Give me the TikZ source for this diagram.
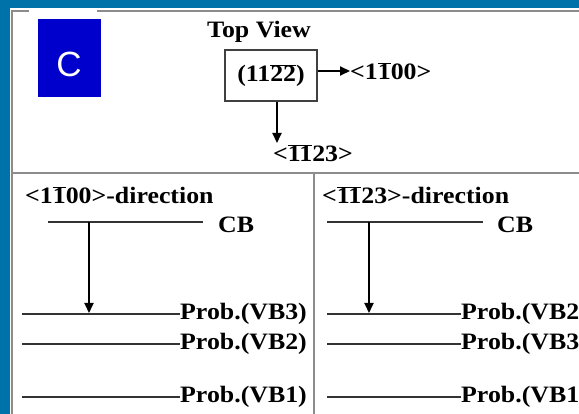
\documentclass[tikz,border=0pt]{standalone}
\usepackage{fontspec}
\setmainfont{Liberation Serif}[FakeStretch=1.1]
\newfontfamily\tagfont{Liberation Sans}
\usetikzlibrary{arrows.meta, positioning}

\definecolor{frameblue}{RGB}{0,114,170}
\definecolor{tagblue}{RGB}{0,0,204}
\newcommand{\ovl}[1]{$\overline{\mbox{#1}}$}

\tikzset{
  lbl/.style={font=\fontsize{23.5}{26}\selectfont\bfseries, inner sep=0pt},
  level/.style={line width=1.5pt, black!80},
  arr/.style={line width=2pt, black, -{Triangle[length=10pt,width=9pt]}},
  sep/.style={line width=2.2pt, black!45},
}

\begin{document}
\begin{tikzpicture}[x=1pt, y=-1pt]
    \clip (0,0) rectangle (579,414);
    \fill[frameblue] (0,0) rectangle (579,414);
    \fill[white] (10,8) rectangle (579,414);

    % frame and panel separators
    \draw[sep] (12,414) -- (12,11) -- (29,11);
    \draw[sep] (97,11) -- (579,11);
    \draw[sep] (12,173) -- (579,173);
    \draw[sep] (314,173) -- (314,414);

    % panel tag
    \node[fill=tagblue, minimum width=63, minimum height=78, inner sep=0pt] (tag) at (69.5,58) {};
    \node[text=white, font=\tagfont\fontsize{35}{35}\selectfont, inner sep=0pt] (tagC) at (69,64) {C};

    % top view
    \node[lbl] (title) at (259,32) {Top View};
    \node[lbl, draw=black!75, line width=1.2pt, minimum width=92, minimum height=51] (plane) at (271,75.5) {(11\ovl{22})};
    \node[lbl, anchor=west] (dirA) at (350,71) {<1\ovl{1}00>};
    \node[lbl] (dirC) at (313,153) {<\ovl{11}23>};
    \coordinate (dnEnd) at (277,143);
    \draw[arr] (plane.east |- dirA.west) -- (dirA.west);
    \draw[arr] (plane.south -| dnEnd) -- (dnEnd);

    % left panel
    \node[lbl, anchor=west] (headA) at (25,195) {<1\ovl{1}00>-direction};
    \node[lbl, anchor=west] (cbA) at (218,225) {CB};
    \coordinate (cbAl) at (48,222);
    \coordinate (cbAr) at (203,222);
    \draw[level] (cbAl) -- (cbAr);
    \foreach \y/\n/\t in {314/3/VB3, 344/2/VB2, 397/1/VB1} {
        \coordinate (lvA\n) at (22,\y);
        \node[lbl, anchor=west] (probA\n) at (180,\y) {Prob.(\t)};
        \draw[level] (lvA\n) -- (probA\n.west);
    }
    \coordinate (excA) at (89,222);
    \coordinate (relA) at (89,313);
    \draw[arr] (excA) -- (relA);

    % right panel
    \node[lbl, anchor=west] (headC) at (322,195) {<\ovl{11}23>-direction};
    \node[lbl, anchor=west] (cbC) at (497,225) {CB};
    \coordinate (cbCl) at (327,222);
    \coordinate (cbCr) at (483,222);
    \draw[level] (cbCl) -- (cbCr);
    \foreach \y/\n/\t in {314/2/VB2, 344/3/VB3, 397/1/VB1} {
        \coordinate (lvC\n) at (327,\y);
        \node[lbl, anchor=west] (probC\n) at (461,\y) {Prob.(\t)};
        \draw[level] (lvC\n) -- (probC\n.west);
    }
    \coordinate (excC) at (369,222);
    \coordinate (relC) at (369,313);
    \draw[arr] (excC) -- (relC);
\end{tikzpicture}
\end{document}
